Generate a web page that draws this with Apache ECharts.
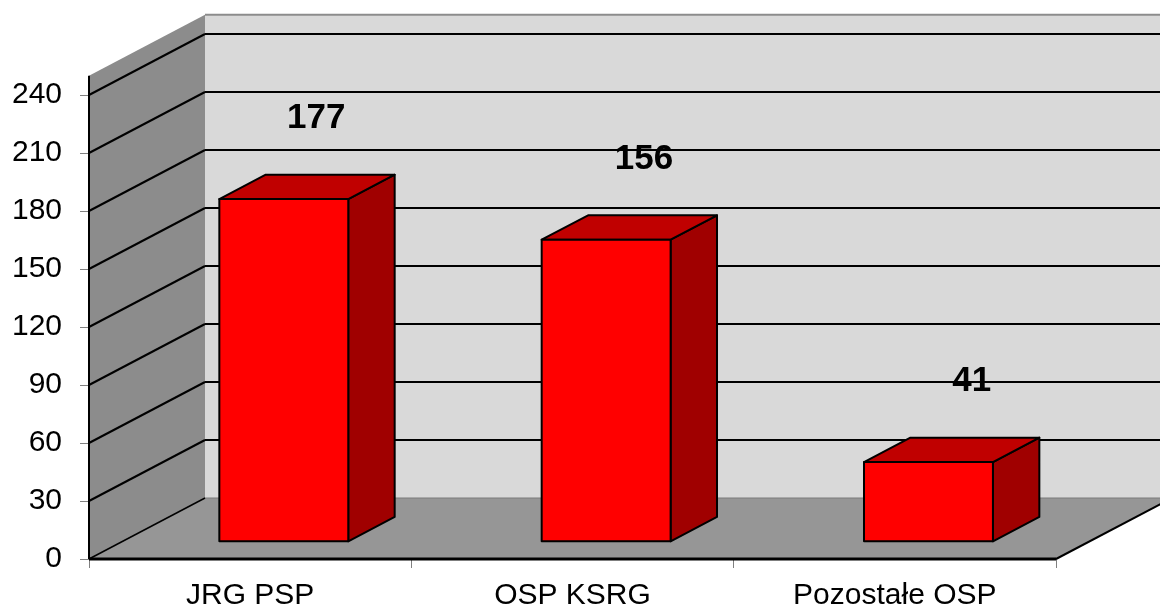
<!DOCTYPE html>
<html><head><meta charset="utf-8">
<script src="https://cdn.jsdelivr.net/npm/echarts@6/dist/echarts.min.js"></script>
<style>html,body{margin:0;padding:0;background:#fff}#c{width:1160px;height:609px}</style>
</head><body><div id="c"></div>
<script>
const categories = ['JRG PSP', 'OSP KSRG', 'Pozostałe OSP'];
const values = [177, 156, 41];
const yTicks = [0, 30, 60, 90, 120, 150, 180, 210, 240];
const wallTop = 250;

const FONT = '"Liberation Sans", Arial, sans-serif';
const DX = 116, DY = -61;       // depth vector of the 3D box
const F0 = 0.29, F1 = 0.69;     // bar depth range (fractions)

function ln(x1, y1, x2, y2, stroke, w) {
  return {type: 'line', shape: {x1, y1, x2, y2}, style: {stroke, lineWidth: w}};
}

function renderBg(params, api) {
  const cs = params.coordSys;
  const x0 = cs.x, x1 = cs.x + cs.width;
  const y = v => api.coord([0, v])[1];
  const yb = y(0), yt = y(wallTop);
  const far = x1 + DX + 200;
  const ch = [];
  ch.push({type: 'polygon', shape: {points: [[x0 + DX, yt + DY], [far, yt + DY], [far, yb + DY], [x0 + DX, yb + DY]]}, style: {fill: '#d9d9d9'}});
  ch.push({type: 'polygon', shape: {points: [[x0, yt], [x0 + DX, yt + DY], [x0 + DX, yb + DY], [x0, yb]]}, style: {fill: '#8c8c8c'}});
  ch.push({type: 'polygon', shape: {points: [[x0, yb], [x1, yb], [x1 + DX, yb + DY], [x0 + DX, yb + DY]]}, style: {fill: '#969696'}});
  ch.push(ln(x0 + DX, yt + DY, far, yt + DY, '#8c8c8c', 2));
  yTicks.forEach(v => {
    if (v === 0) return;
    const yy = y(v);
    ch.push(ln(x0 + DX, yy + DY, far, yy + DY, '#000', 2));
    ch.push(ln(x0, yy, x0 + DX, yy + DY, '#000', 2));
  });
  ch.push(ln(x0 + DX, yb + DY, far, yb + DY, '#7a7a7a', 1));
  ch.push(ln(x0, yb, x0 + DX, yb + DY, '#000', 1.5));
  ch.push(ln(x1, yb, x1 + DX, yb + DY, '#000', 2));
  ch.push(ln(x0, yb, x0, yt, '#000', 2));
  ch.push(ln(x0, yb, x1, yb, '#000', 3));
  return {type: 'group', children: ch};
}

function renderBar(params, api) {
  const i = api.value(0), v = api.value(1);
  const top = api.coord([i, v]), base = api.coord([i, 0]);
  const w = api.size([1, 0])[0] * 0.4;
  const ox = F0 * DX, oy = F0 * DY, bx = (F1 - F0) * DX, by = (F1 - F0) * DY;
  const l = top[0] - w / 2 + ox, r = top[0] + w / 2 + ox, t = top[1] + oy, b = base[1] + oy;
  const st = fill => ({fill, stroke: '#000', lineWidth: 2, lineJoin: 'round'});
  return {type: 'group', children: [
    {type: 'polygon', shape: {points: [[r, t], [r + bx, t + by], [r + bx, b + by], [r, b]]}, style: st('#a00000')},
    {type: 'polygon', shape: {points: [[l, t], [r, t], [r + bx, t + by], [l + bx, t + by]]}, style: st('#c00000')},
    {type: 'polygon', shape: {points: [[l, t], [r, t], [r, b], [l, b]]}, style: st('#ff0000')},
    {type: 'text', x: top[0] + 66 + 5.5 * i, y: top[1] + DY - 37,
     style: {text: String(v), font: 'bold 35px ' + FONT, fill: '#000',
             align: 'center', verticalAlign: 'middle', textAlign: 'center', textVerticalAlign: 'middle'}}
  ]};
}

const chart = echarts.init(document.getElementById('c'), null, {renderer: 'canvas'});
chart.setOption({
  animation: false,
  backgroundColor: '#fff',
  grid: {left: 89, right: 104, top: 95, bottom: 50, containLabel: false, outerBoundsMode: 'none'},
  xAxis: {
    type: 'category', data: categories, boundaryGap: true,
    axisLine: {show: false},
    axisTick: {show: true, length: 9, lineStyle: {color: '#808080', width: 1}},
    axisLabel: {fontSize: 30, fontFamily: FONT, color: '#000', margin: 22},
    splitLine: {show: false}
  },
  yAxis: {
    type: 'value', min: 0, max: yTicks[yTicks.length - 1], interval: 30,
    axisLine: {show: false},
    axisTick: {show: true, length: 9, lineStyle: {color: '#808080', width: 1}},
    axisLabel: {fontSize: 30, fontFamily: FONT, color: '#000', margin: 27, padding: [4, 0, 0, 0]},
    splitLine: {show: false}
  },
  series: [
    {type: 'custom', renderItem: renderBg, data: [[0, 0]], encode: {x: 0, y: 1}, silent: true, z: 1, clip: false},
    {type: 'custom', renderItem: renderBar, data: values.map((v, i) => [i, v]), encode: {x: 0, y: 1}, silent: true, z: 3, clip: false}
  ]
});
</script>
</body></html>
